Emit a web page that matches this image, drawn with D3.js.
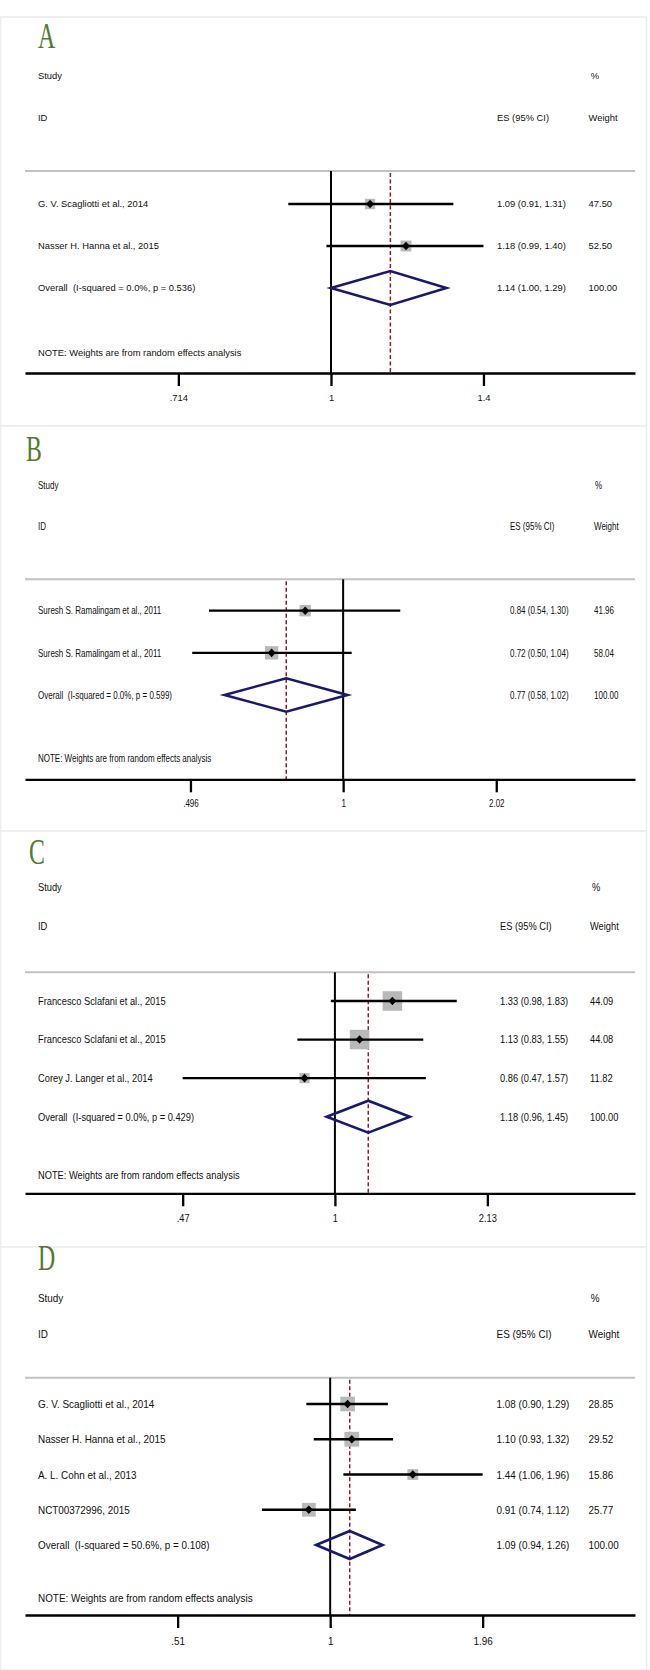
<!DOCTYPE html>
<html><head><meta charset="utf-8">
<script src="https://cdn.jsdelivr.net/npm/d3@7/dist/d3.min.js"></script>
<style>body{margin:0;background:#fff}svg{display:block}text{white-space:pre}</style>
</head><body>
<script>
// ---------- data ----------
const panelIds = ["A","B","C","D"];

const studiesA = ["G. V. Scagliotti et al., 2014","Nasser H. Hanna et al., 2015"];
const esA = [1.09,1.18], loA = [0.91,0.99], hiA = [1.31,1.40], wA = [47.50,52.50];
const overallA = [1.14,1.00,1.29], i2A = "0.0%", pA = "0.536";
const ticksA = [0.714,1,1.4], tickLabelsA = [".714","1","1.4"], domainA = [0.509,1.956];

const studiesB = ["Suresh S. Ramalingam et al., 2011","Suresh S. Ramalingam et al., 2011"];
const esB = [0.84,0.72], loB = [0.54,0.50], hiB = [1.30,1.04], wB = [41.96,58.04];
const overallB = [0.77,0.58,1.02], i2B = "0.0%", pB = "0.599";
const ticksB = [0.496,1,2.02], tickLabelsB = [".496","1","2.02"], domainB = [0.232,3.82];

const studiesC = ["Francesco Sclafani et al., 2015","Francesco Sclafani et al., 2015","Corey J. Langer et al., 2014"];
const esC = [1.33,1.13,0.86], loC = [0.98,0.83,0.47], hiC = [1.83,1.55,1.57], wC = [44.09,44.08,11.82];
const overallC = [1.18,0.96,1.45], i2C = "0.0%", pC = "0.429";
const ticksC = [0.47,1,2.13], tickLabelsC = [".47","1","2.13"], domainC = [0.215,4.43];

const studiesD = ["G. V. Scagliotti et al., 2014","Nasser H. Hanna et al., 2015","A. L. Cohn et al., 2013","NCT00372996, 2015"];
const esD = [1.08,1.10,1.44,0.91], loD = [0.90,0.93,1.06,0.74], hiD = [1.29,1.32,1.96,1.12], wD = [28.85,29.52,15.86,25.77];
const overallD = [1.09,0.94,1.26], i2D = "50.6%", pD = "0.108";
const ticksD = [0.51,1,1.96], tickLabelsD = [".51","1","1.96"], domainD = [0.260,3.84];

const noteText = "NOTE: Weights are from random effects analysis";

// ---------- layout (positions / styles) ----------
const layout = {
  A:{top:17,bottom:426,lx:38,ly:48,studyY:76,idY:118,grayY:171,row1:204,overall:288,note:353,axis:373,lab:25,fs:9.4,sy:1.0,esX:497,wX:588.6,pctX:590.7,boxK:1.5,dh:17},
  B:{top:426,bottom:831,lx:26,ly:461,studyY:485,idY:526.7,grayY:579.3,row1:610.7,overall:695,note:758.3,axis:779.3,lab:24,fs:8.0,sy:1.27,esX:510,wX:594,pctX:595,boxK:1.75,dh:16.7},
  C:{top:831,bottom:1247,lx:29,ly:864,studyY:887.3,idY:925.7,grayY:972.3,row1:1001,overall:1116.7,note:1175,axis:1193.3,lab:24.4,fs:9.3,sy:1.15,esX:500,wX:590,pctX:592,boxK:2.94,dh:16},
  D:{top:1247,bottom:1670,lx:38,ly:1269.5,studyY:1298.3,idY:1334,grayY:1377.7,row1:1404,overall:1545,note:1598.3,axis:1615,lab:26,fs:9.9,sy:1.17,esX:496.6,wX:588.6,pctX:590.7,boxK:2.72,dh:14}
};
const dataSets = {
  A:{studies:studiesA,es:esA,lo:loA,hi:hiA,w:wA,ov:overallA,i2:i2A,p:pA,ticks:ticksA,tl:tickLabelsA,dom:domainA},
  B:{studies:studiesB,es:esB,lo:loB,hi:hiB,w:wB,ov:overallB,i2:i2B,p:pB,ticks:ticksB,tl:tickLabelsB,dom:domainB},
  C:{studies:studiesC,es:esC,lo:loC,hi:hiC,w:wC,ov:overallC,i2:i2C,p:pC,ticks:ticksC,tl:tickLabelsC,dom:domainC},
  D:{studies:studiesD,es:esD,lo:loD,hi:hiD,w:wD,ov:overallD,i2:i2D,p:pD,ticks:ticksD,tl:tickLabelsD,dom:domainD}
};

const W = 650, H = 1670, X0 = 25, X1 = 635;
const SANS = "'Liberation Sans', Arial, sans-serif";
const SERIF = "'Liberation Serif', 'DejaVu Serif', serif";
const f2 = d3.format(".2f");
const svg = d3.select("body").append("svg").attr("width",W).attr("height",H);

function txt(g, s, x, y, L, anchor){
  return g.append("text").attr("transform",`translate(${x},${y}) scale(1,${L.sy})`)
    .attr("dy","0.36em").attr("font-size",L.fs).attr("fill","#111")
    .style("font-family",SANS)
    .attr("text-anchor",anchor||"start").text(s);
}

panelIds.forEach(id=>{
  const L = layout[id], D = dataSets[id];
  const g = svg.append("g");
  // panel frame
  g.append("rect").attr("x",0.5).attr("y",L.top).attr("width",646).attr("height",L.bottom-L.top)
    .attr("fill","#fff").attr("stroke","#ececec").attr("stroke-width",1.5);
  // letter
  g.append("text").attr("transform",`translate(${L.lx},${L.ly}) scale(0.66,1)`)
    .style("font-family",SERIF).attr("font-size",36)
    .attr("fill","#4f7a30").text(id);
  // headers
  txt(g,"Study",38,L.studyY,L);
  txt(g,"%",L.pctX,L.studyY,L);
  txt(g,"ID",38,L.idY,L);
  txt(g,"ES (95% CI)",L.esX,L.idY,L);
  txt(g,"Weight",L.wX,L.idY,L);
  // gray separator
  g.append("line").attr("x1",X0).attr("x2",X1).attr("y1",L.grayY).attr("y2",L.grayY)
    .attr("stroke","#c2c2c2").attr("stroke-width",2);

  const x = d3.scaleLog().domain(D.dom).range([X0,X1]);
  const rows = D.studies.map((s,i)=>i).concat(["ov"]);
  const y = d3.scalePoint().domain(rows).range([L.row1,L.overall]);

  // null line
  g.append("line").attr("x1",x(1)).attr("x2",x(1)).attr("y1",L.grayY).attr("y2",L.axis)
    .attr("stroke","#000").attr("stroke-width",2);
  // overall dashed
  g.append("line").attr("x1",x(D.ov[0])).attr("x2",x(D.ov[0])).attr("y1",L.grayY+2).attr("y2",L.axis)
    .attr("stroke","#8e1b2b").attr("stroke-width",1.5).attr("stroke-dasharray","4,2.5");

  // study rows
  D.studies.forEach((s,i)=>{
    const yy = y(i), cx = x(D.es[i]);
    const side = L.boxK*Math.sqrt(D.w[i]);
    g.append("rect").attr("x",cx-side/2).attr("y",yy-side/2).attr("width",side).attr("height",side)
      .attr("fill","#b9b9b9");
    g.append("line").attr("x1",x(D.lo[i])).attr("x2",x(D.hi[i])).attr("y1",yy).attr("y2",yy)
      .attr("stroke","#000").attr("stroke-width",2.3);
    g.append("path").attr("d",`M${cx-4},${yy}L${cx},${yy-4.3}L${cx+4},${yy}L${cx},${yy+4.3}Z`).attr("fill","#000");
    txt(g,s,38,yy,L);
    txt(g,`${f2(D.es[i])} (${f2(D.lo[i])}, ${f2(D.hi[i])})`,L.esX,yy,L);
    txt(g,f2(D.w[i]),L.wX,yy,L);
  });
  // overall diamond
  const yo = y("ov");
  g.append("path").attr("d",`M${x(D.ov[1])},${yo}L${x(D.ov[0])},${yo-L.dh}L${x(D.ov[2])},${yo}L${x(D.ov[0])},${yo+L.dh}Z`)
    .attr("fill","none").attr("stroke","#1a1a6a").attr("stroke-width",2.6).attr("stroke-linejoin","miter");
  txt(g,`Overall  (I-squared = ${D.i2}, p = ${D.p})`,38,yo,L);
  txt(g,`${f2(D.ov[0])} (${f2(D.ov[1])}, ${f2(D.ov[2])})`,L.esX,yo,L);
  txt(g,"100.00",L.wX,yo,L);
  txt(g,noteText,38,L.note,L);

  // axis
  const ax = g.append("g").attr("transform",`translate(0,${L.axis})`)
    .call(d3.axisBottom(x).tickValues(D.ticks).tickFormat((d,i)=>D.tl[i]).tickSize(13).tickSizeOuter(0));
  ax.select(".domain").attr("stroke","#000").attr("stroke-width",2.3);
  ax.selectAll(".tick line").attr("stroke","#000").attr("stroke-width",2.3);
  ax.selectAll(".tick text").attr("y",0).attr("dy","0.36em")
    .attr("transform",`translate(0,${L.lab}) scale(1,${L.sy})`)
    .attr("font-size",L.fs).attr("fill","#111").style("font-family",SANS);
});
</script>
</body></html>
